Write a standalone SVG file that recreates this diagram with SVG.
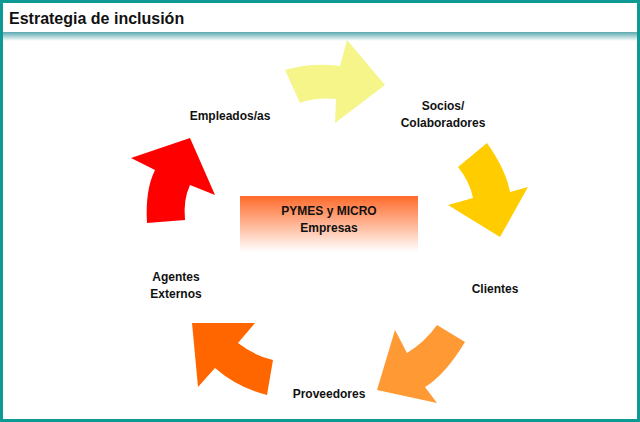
<svg xmlns="http://www.w3.org/2000/svg" width="640" height="422" viewBox="0 0 640 422">
<defs>
<linearGradient id="box" x1="0" y1="0" x2="0" y2="1"><stop offset="0" stop-color="#ff6a2a"/><stop offset="1" stop-color="#ffffff"/></linearGradient>
<linearGradient id="sep" x1="0" y1="0" x2="0" y2="1"><stop offset="0" stop-color="#5aa9b0"/><stop offset="1" stop-color="#ffffff"/></linearGradient>
</defs>
<style>
.t{font-family:"Liberation Sans",Arial,sans-serif;font-weight:bold;font-size:12px;fill:#111;text-anchor:middle}
</style>
<rect x="0" y="0" width="640" height="422" fill="#ffffff"/>
<rect x="0" y="32" width="640" height="9" fill="url(#sep)"/>
<rect x="1.5" y="1.5" width="637" height="419" fill="none" stroke="#0e9a94" stroke-width="3"/>
<text x="9" y="24" font-family="'Liberation Sans',Arial,sans-serif" font-weight="bold" font-size="16" fill="#111">Estrategia de inclusión</text>
<g id="connectors">
<path d="M285,70 Q312,62 340,66 L347,40 L385,85 L335,123 L336,99 Q315,97 300,103 Z" fill="#f5f58a"/>
<path d="M487,143 Q506,170 510,192 L528,187 L500,237 L448,205 L473,198 Q470,182 458,167 Z" fill="#ffcc00"/>
<path d="M437,325 L465,342 Q445,375 425,387 L437,403 L377,390 L395,330 L407,353 Q425,342 437,325 Z" fill="#ff9933"/>
<path d="M267,395 Q238,388 215,368 L198,387 L192,323 L255,323 L238,343 Q255,356 273,360 Z" fill="#ff6600"/>
<path d="M147,223 Q145,190 155,170 L131,158 L190,138 L215,195 L190,185 Q183,200 185,220 Z" fill="#ff0000"/>
</g>
<g id="center"><rect x="240" y="196" width="178" height="56" fill="url(#box)"/>
<text class="t" x="329" y="215" font-size="14" font-weight="normal">PYMES y MICRO</text>
<text class="t" x="329" y="232" font-size="14" font-weight="normal">Empresas</text></g>
<g id="empleados"><text class="t" x="230" y="120">Empleados/as</text></g>
<g id="socios"><text class="t" x="443" y="110">Socios/</text><text class="t" x="443" y="127">Colaboradores</text></g>
<g id="clientes"><text class="t" x="495" y="293">Clientes</text></g>
<g id="proveedores"><text class="t" x="329" y="398">Proveedores</text></g>
<g id="agentes"><text class="t" x="176" y="281">Agentes</text><text class="t" x="176" y="298">Externos</text></g>
</svg>
